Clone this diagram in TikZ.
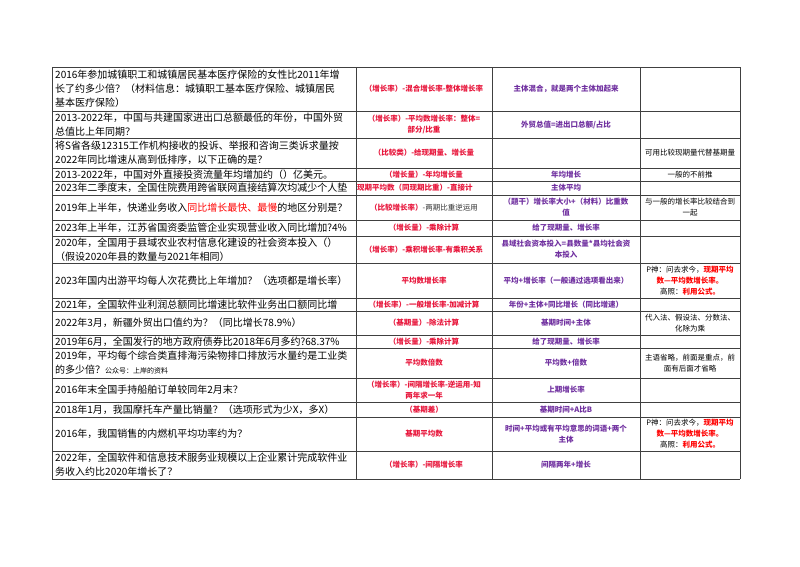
\documentclass[tikz,border=0pt]{standalone}
\usepackage{fontspec}
\setmainfont{Noto Sans CJK SC}
\definecolor{rd}{HTML}{E8173C}
\definecolor{pu}{HTML}{7030A0}
\definecolor{rr}{HTML}{FF0000}
\begin{document}
\begin{tikzpicture}[x=1pt,y=-1pt,
 q/.style={anchor=west,inner sep=0,align=left,font=\fontsize{10}{14}\selectfont},
 a/.style={inner sep=0,align=center,text=rd,font=\bfseries\fontsize{7.5}{11}\selectfont},
 b/.style={inner sep=0,align=center,text=pu,font=\bfseries\fontsize{7.5}{11}\selectfont},
 c/.style={inner sep=0,align=center,font=\fontsize{7.5}{11}\selectfont},
 grid/.style={line width=0.7pt,draw=black!75}]
\useasboundingbox (0,0) rectangle (800,566);
\fill[white] (0,0) rectangle (800,566);
% grid
\foreach \y in {67,111,138,168,181,195,220,236,263,298,311,335,348,378,402,417,451,479}
  \draw[grid] (52,\y) -- (740,\y);
\foreach \x in {52,356,492,640,740}
  \draw[grid] (\x,67) -- (\x,479);
% column 1
\node[q] (q1) at (55,89) {2016年参加城镇职工和城镇居民基本医疗保险的女性比2011年增\\长了约多少倍？（材料信息：城镇职工基本医疗保险、城镇居民\\基本医疗保险）};
\node[q] (q2) at (55,124.5) {2013-2022年，中国与共建国家进出口总额最低的年份，中国外贸\\总值比上年同期？};
\node[q] (q3) at (55,153) {将S省各级12315工作机构接收的投诉、举报和咨询三类诉求量按\\2022年同比增速从高到低排序，以下正确的是？};
\node[q] (q4) at (55,174.5) {2013-2022年，中国对外直接投资流量年均增加约（）亿美元。};
\node[q] (q5) at (55,188) {2023年二季度末，全国住院费用跨省联网直接结算次均减少个人垫};
\node[q] (q6) at (55,207.5) {2019年上半年，快递业务收入\textcolor{rr}{同比增长最快、最慢}的地区分别是？};
\node[q] (q7) at (55,228) {2023年上半年，江苏省国资委监管企业实现营业收入同比增加?4\%};
\node[q] (q8) at (55,249.5) {2020年，全国用于县域农业农村信息化建设的社会资本投入（）\\（假设2020年县的数量与2021年相同）};
\node[q] (q9) at (55,280.5) {2023年国内出游平均每人次花费比上年增加？（选项都是增长率）};
\node[q] (q10) at (55,304.5) {2021年，全国软件业利润总额同比增速比软件业务出口额同比增};
\node[q] (q11) at (55,323) {2022年3月，新疆外贸出口值约为？（同比增长78.9\%）};
\node[q] (q12) at (55,341.5) {2019年6月，全国发行的地方政府债券比2018年6月多约?68.37\%};
\node[q] (q13) at (55,363) {2019年，平均每个综合类直排海污染物排口排放污水量约是工业类\\的多少倍？{\fontsize{7}{10}\selectfont 公众号：上岸的资料}};
\node[q] (q14) at (55,390) {2016年末全国手持船舶订单较同年2月末？};
\node[q] (q15) at (55,409.5) {2018年1月，我国摩托车产量比销量？（选项形式为少X，多X）};
\node[q] (q16) at (55,434) {2016年，我国销售的内燃机平均功率约为？};
\node[q] (q17) at (55,465) {2022年，全国软件和信息技术服务业规模以上企业累计完成软件业\\务收入约比2020年增长了？};
% column 2
\node[a] (a1) at (424,89) {（增长率）-混合增长率-整体增长率};
\node[a] (a2) at (424,124.5) {（增长率）-平均数增长率：整体=\\部分/比重};
\node[a] (a3) at (424,153) {（比较类）-给现期量、增长量};
\node[a] (a4) at (424,174.5) {（增长量）-年均增长量};
\node[a,anchor=west] (a5) at (357,188) {现期平均数（同现期比重）-直接计};
\node[a] (a6) at (424,207.5) {（比较增长率）\textcolor{black!80}{\mdseries -两期比重逆运用}};
\node[a] (a7) at (424,228) {（增长量）-乘除计算};
\node[a] (a8) at (424,249.5) {（增长率）-乘积增长率-有乘积关系};
\node[a] (a9) at (424,280.5) {平均数增长率};
\node[a] (a10) at (424,304.5) {（增长率）-一般增长率-加减计算};
\node[a] (a11) at (424,323) {（基期量）-除法计算};
\node[a] (a12) at (424,341.5) {（增长量）-乘除计算};
\node[a] (a13) at (424,363) {平均数倍数};
\node[a] (a14) at (424,390) {（增长率）-间隔增长率-逆运用-知\\两年求一年};
\node[a] (a15) at (424,409.5) {（基期差）};
\node[a] (a16) at (424,434) {基期平均数};
\node[a] (a17) at (424,465) {（增长率）-间隔增长率};
% column 3
\node[b] (b1) at (566,89) {主体混合，就是两个主体加起来};
\node[b] (b2) at (566,124.5) {外贸总值=进出口总额/占比};
\node[b] (b4) at (566,174.5) {年均增长};
\node[b] (b5) at (566,188) {主体平均};
\node[b] (b6) at (566,207.5) {（题干）增长率大小+（材料）比重数\\值};
\node[b] (b7) at (566,228) {给了现期量、增长率};
\node[b] (b8) at (566,249.5) {县域社会资本投入=县数量*县均社会资\\本投入};
\node[b] (b9) at (566,280.5) {平均+增长率（一般通过选项看出来）};
\node[b] (b10) at (566,304.5) {年份+主体+同比增长（同比增速）};
\node[b] (b11) at (566,323) {基期时间+主体};
\node[b] (b12) at (566,341.5) {给了现期量、增长率};
\node[b] (b13) at (566,363) {平均数+倍数};
\node[b] (b14) at (566,390) {上期增长率};
\node[b] (b15) at (566,409.5) {基期时间+A比B};
\node[b] (b16) at (566,434) {时间+平均或有平均意思的词语+两个\\主体};
\node[b] (b17) at (566,465) {间隔两年+增长};
% column 4
\node[c] (c3) at (690,153) {可用比较现期量代替基期量};
\node[c] (c4) at (690,174.5) {一般的不前推};
\node[c] (c6) at (690,207.5) {与一般的增长率比较结合到\\一起};
\node[c] (c9) at (690,280.5) {P神：问去求今，\textcolor{rr}{\bfseries 现期平均}\\\textcolor{rr}{\bfseries 数—平均数增长率。}\\高照：\textcolor{rr}{\bfseries 利用公式。}};
\node[c] (c11) at (690,323) {代入法、假设法、分数法、\\化除为乘};
\node[c] (c13) at (690,363) {主语省略，前面是重点，前\\面有后面才省略};
\node[c] (c16) at (690,434) {P神：问去求今，\textcolor{rr}{\bfseries 现期平均}\\\textcolor{rr}{\bfseries 数—平均数增长率。}\\高照：\textcolor{rr}{\bfseries 利用公式。}};
\end{tikzpicture}
\end{document}
